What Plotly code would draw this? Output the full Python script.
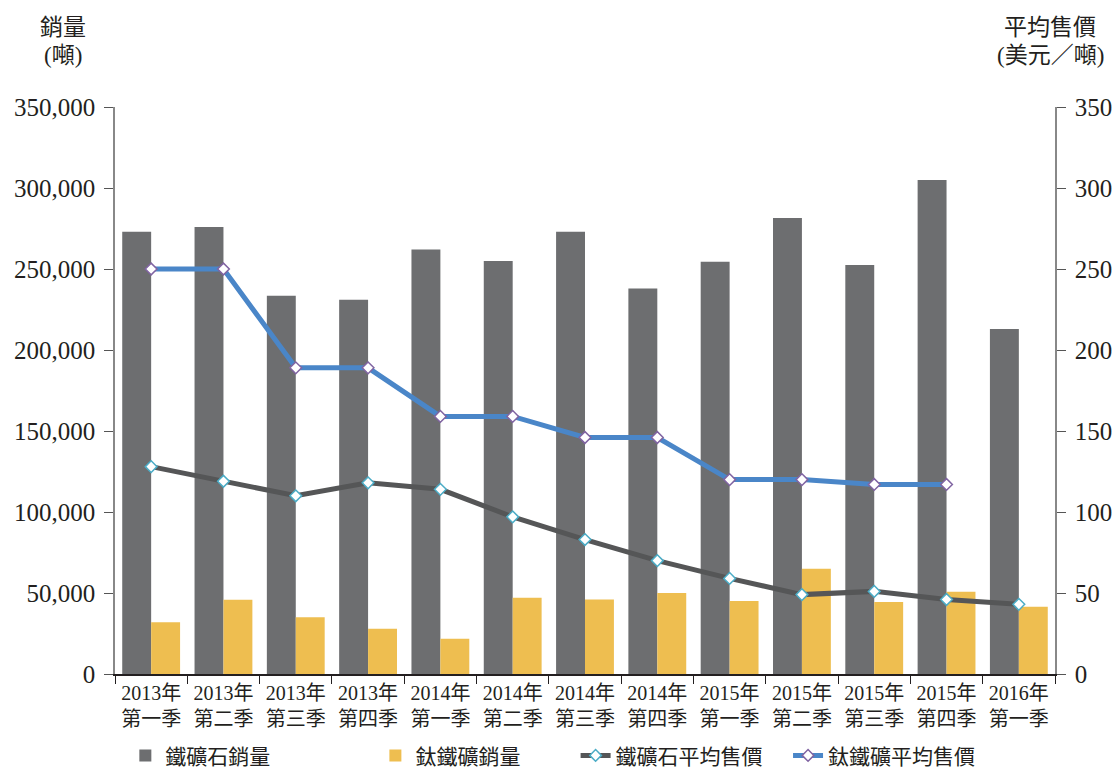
import plotly.graph_objects as go

categories = ["2013年<br>第一季", "2013年<br>第二季", "2013年<br>第三季", "2013年<br>第四季",
              "2014年<br>第一季", "2014年<br>第二季", "2014年<br>第三季", "2014年<br>第四季",
              "2015年<br>第一季", "2015年<br>第二季", "2015年<br>第三季", "2015年<br>第四季",
              "2016年<br>第一季"]
iron_ore_sales = [273000, 276000, 233500, 231000, 262000, 255000, 273000, 238000,
                  254500, 281500, 252500, 305000, 213000]
ilmenite_sales = [32000, 45800, 35000, 28000, 21800, 47000, 46000, 50000,
                  45000, 65000, 44500, 50700, 41500]
iron_ore_price = [128, 119, 110, 118, 114, 97, 83, 70, 59, 49, 51, 46, 43]
ilmenite_price = [250, 250, 189, 189, 159, 159, 146, 146, 120, 120, 117, 117, None]

serif = "Liberation Serif, Noto Sans CJK TC"
fig = go.Figure()
fig.add_trace(go.Bar(x=categories, y=iron_ore_sales, name="鐵礦石銷量", legend="legend",
                     marker=dict(color="#6d6e70", line=dict(width=0))))
fig.add_trace(go.Bar(x=categories, y=ilmenite_sales, name="鈦鐵礦銷量", legend="legend2",
                     marker=dict(color="#eebe50", line=dict(width=0))))
fig.add_trace(go.Scatter(x=categories, y=iron_ore_price, name="鐵礦石平均售價", yaxis="y2",
                         legend="legend3", mode="lines+markers",
                         line=dict(color="#555657", width=5),
                         marker=dict(symbol="diamond", size=9, color="white",
                                     line=dict(color="#4bacc6", width=1.5))))
fig.add_trace(go.Scatter(x=categories, y=ilmenite_price, name="鈦鐵礦平均售價", yaxis="y2",
                         legend="legend4", mode="lines+markers",
                         line=dict(color="#4a86c8", width=5),
                         marker=dict(symbol="diamond", size=9, color="white",
                                     line=dict(color="#8064a2", width=1.5))))

leg = dict(orientation="h", y=-0.108, xanchor="left", yanchor="top",
           font=dict(size=21), itemwidth=30, bgcolor="rgba(0,0,0,0)")
fig.update_layout(
    width=1118, height=769,
    margin=dict(l=115, r=63, t=107, b=95, autoexpand=False),
    paper_bgcolor="white", plot_bgcolor="white",
    barmode="group", bargap=0.2, bargroupgap=0,
    font=dict(family=serif, color="#231f20"),
    xaxis=dict(type="category", range=[-0.5, 12.5], showline=True, linecolor="#231f20", linewidth=1.5,
               ticks="outside", tickson="boundaries", ticklen=8, tickcolor="#231f20",
               tickangle=0, tickfont=dict(size=20), showgrid=False, automargin=False),
    yaxis=dict(range=[0, 350000], tickvals=[0, 50000, 100000, 150000, 200000, 250000, 300000, 350000],
               ticktext=["0", "50,000", "100,000", "150,000", "200,000", "250,000", "300,000", "350,000"],
               showline=True, linecolor="#888888", linewidth=1.5, ticks="outside", ticklen=9,
               tickcolor="#555555", tickfont=dict(size=25), showgrid=False, zeroline=False,
               ticklabelstandoff=4, automargin=False),
    yaxis2=dict(range=[0, 350], overlaying="y", side="right",
                tickvals=[0, 50, 100, 150, 200, 250, 300, 350],
                showline=True, linecolor="#888888", linewidth=1.5, ticks="outside", ticklen=9,
                tickcolor="#555555", tickfont=dict(size=25), showgrid=False, zeroline=False,
                ticklabelstandoff=4, automargin=False),
    legend=dict(leg, x=0.011),
    legend2=dict(leg, x=0.277),
    legend3=dict(leg, x=0.490),
    legend4=dict(leg, x=0.716),
    showlegend=True,
)
def ypx(p):
    return (674 - p) / 567

fig.add_annotation(text="銷量", xref="paper", yref="paper", x=(63 - 115) / 940, y=ypx(28),
                   xanchor="center", yanchor="middle", showarrow=False, font=dict(size=23))
fig.add_annotation(text="(噸)", xref="paper", yref="paper", x=(63 - 115) / 940, y=ypx(55),
                   xanchor="center", yanchor="middle", showarrow=False, font=dict(size=23))
fig.add_annotation(text="平均售價", xref="paper", yref="paper", x=(1050 - 115) / 940, y=ypx(28),
                   xanchor="center", yanchor="middle", showarrow=False, font=dict(size=23))
fig.add_annotation(text="(美元／噸)", xref="paper", yref="paper", x=(1050 - 115) / 940, y=ypx(55),
                   xanchor="center", yanchor="middle", showarrow=False, font=dict(size=23))
fig.write_html("out.html")
